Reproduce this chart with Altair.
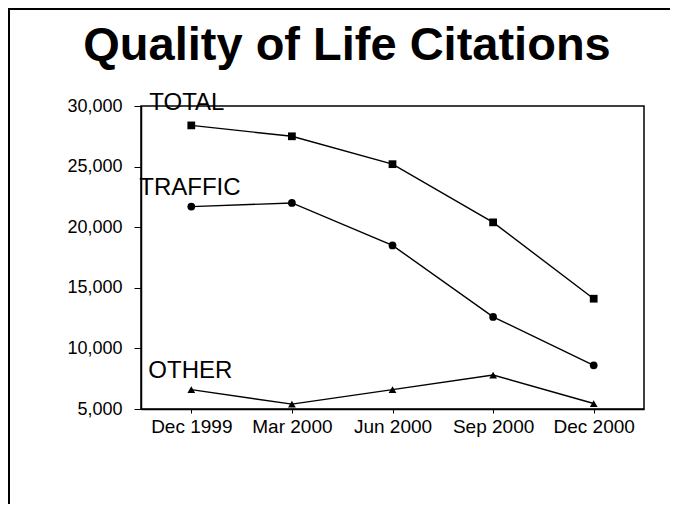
import altair as alt
import pandas as pd

title_text = "Quality of Life Citations"
months = ["Dec 1999", "Mar 2000", "Jun 2000", "Sep 2000", "Dec 2000"]
total = [28400, 27500, 25200, 20400, 14100]
traffic = [21700, 22000, 18500, 12600, 8600]
other = [6600, 5400, 6600, 7800, 5450]
series_names = ["TOTAL", "TRAFFIC", "OTHER"]
series_shapes = ["square", "circle", "triangle-up"]
label_values = [29700, 22650, 7550]
label_dx = [-42, -52, -43]
y_ticks = [5000, 10000, 15000, 20000, 25000, 30000]

rows = []
for name, vals in zip(series_names, [total, traffic, other]):
    for m, v in zip(months, vals):
        rows.append({"month": m, "value": v, "series": name})
df = pd.DataFrame(rows)

x = alt.X(
    "month:N",
    sort=months,
    scale=alt.Scale(type="point", padding=0.5),
    axis=alt.Axis(title=None, labelAngle=0, tickSize=4, labelPadding=4,
                  labelFontSize=19),
)
y = alt.Y(
    "value:Q",
    scale=alt.Scale(domain=[5000, 30000], nice=False, zero=False),
    axis=alt.Axis(values=y_ticks, format=",.0f", title=None, grid=False,
                  tickSize=7, labelPadding=12, labelFontSize=18),
)

lines = alt.Chart(df).mark_line(color="black", strokeWidth=1.4).encode(
    x=x, y=y, detail="series:N"
)
points = alt.Chart(df).mark_point(filled=True, color="black", opacity=1, size=60).encode(
    x=x,
    y=y,
    shape=alt.Shape("series:N", scale=alt.Scale(domain=series_names, range=series_shapes), legend=None),
)

layers = [lines, points]
for name, val, dx in zip(series_names, label_values, label_dx):
    ldf = pd.DataFrame({"month": [months[0]], "value": [val], "label": [name]})
    layers.append(
        alt.Chart(ldf).mark_text(align="left", baseline="alphabetic", dx=dx, fontSize=24,
                                 font="Liberation Sans", color="black").encode(
            x=alt.X("month:N", sort=months), y=alt.Y("value:Q"), text="label:N"
        )
    )

title_df = pd.DataFrame({"t": [title_text]})
title = alt.Chart(title_df).mark_text(align="center", baseline="alphabetic", fontSize=47,
                                      fontWeight="bold", font="Liberation Sans", color="black").encode(
    text="t:N", x=alt.value(206), y=alt.value(-46)
)
border_left = alt.Chart(title_df).mark_rule(color="black", strokeWidth=2).encode(
    x=alt.value(-132), y=alt.value(-98), y2=alt.value(400)
)
border_top = alt.Chart(title_df).mark_rule(color="black", strokeWidth=2).encode(
    x=alt.value(-133), x2=alt.value(530), y=alt.value(-97)
)
layers += [title, border_left, border_top]

chart = alt.layer(*layers).properties(
    width=503,
    height=303,
    padding={"left": 133, "top": 98, "right": 26, "bottom": 95},
    autosize=alt.AutoSizeParams(type="none"),
    background="white",
).configure_view(stroke="black", strokeWidth=1.5).configure_axis(
    domainColor="black", tickColor="black", labelColor="black",
    labelFont="Liberation Sans", domainWidth=1.5,
)

chart.save("out.html", embed_options={"renderer": "svg", "actions": False})
